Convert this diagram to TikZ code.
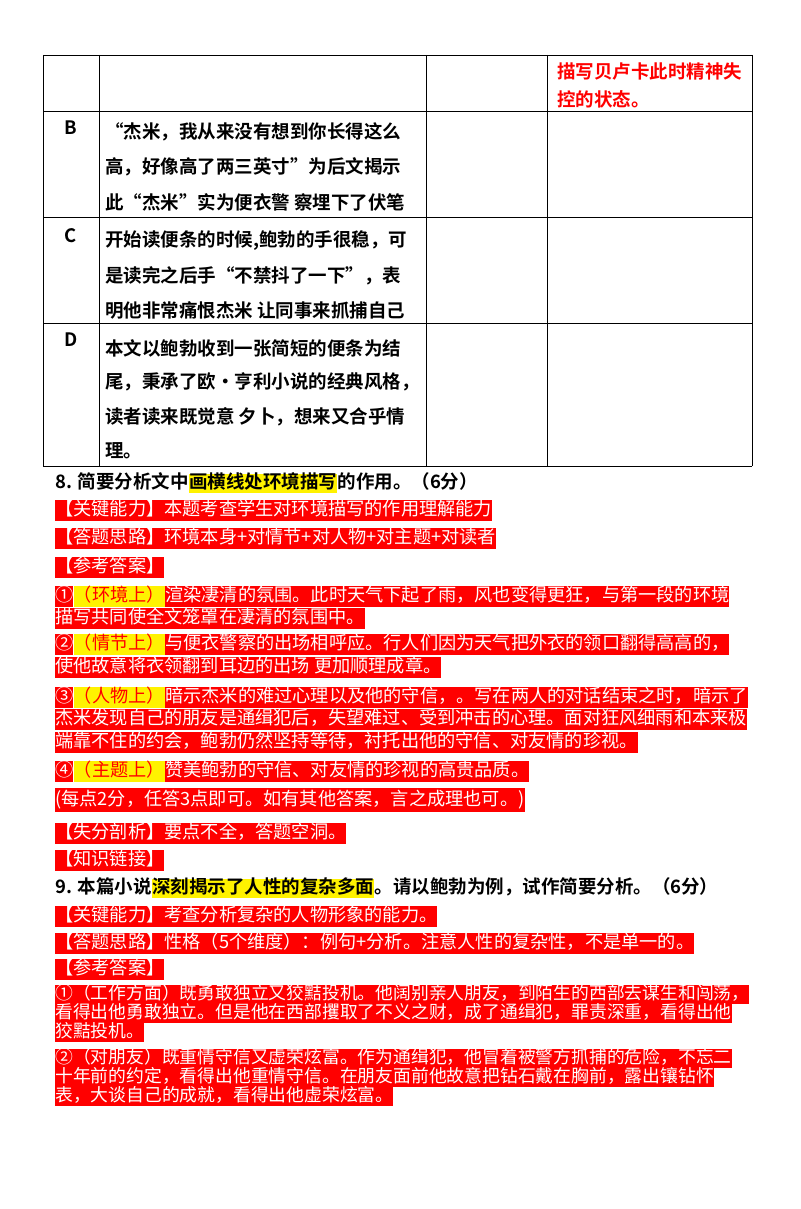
\documentclass[tikz,border=0pt]{standalone}
\usepackage{fontspec}
\newfontfamily\cjk{Noto Sans CJK SC}
\newfontfamily\cjkb{Noto Sans CJK SC Bold}
\usetikzlibrary{positioning}
\begin{document}
\begin{tikzpicture}[x=1pt,y=-1pt,
 tb/.style={anchor=west,inner sep=0pt,font=\cjkb\fontsize{18.5}{20}\selectfont},
 tr/.style={tb,text=red},
 ttl/.style={anchor=west,inner sep=0pt,text height=15pt,text depth=4pt,font=\cjkb\fontsize{18.5}{20}\selectfont},
 hl/.style={ttl,fill=yellow},
 rb/.style={anchor=west,fill=red,text=white,inner xsep=0pt,inner ysep=0pt,text height=16pt,text depth=5pt,font=\cjk\fontsize{18.2}{20}\selectfont},
 rbs/.style={rb,text height=14.5pt,text depth=4.5pt,font=\cjk\fontsize{17.8}{19}\selectfont},
 yb/.style={rb,fill=yellow,text=red}]
\useasboundingbox (0,0) rectangle (800,1209);
% table
\foreach \yy in {55,111,217,323,466} \draw[line width=0.8pt] (43,\yy) -- (752,\yy);
\foreach \xx in {43,99,426,547,752} \draw[line width=0.8pt] (\xx,55) -- (\xx,466);
\node[tr] (a1) at (557,72) {描写贝卢卡此时精神失};
\node[tr] (a2) at (557,99) {控的状态。};
\node[tb] (lb) at (64,128) {B};
\node[tb] (b1) at (105,132) {“杰米，我从来没有想到你长得这么};
\node[tb] (b2) at (105,167) {高，好像高了两三英寸”为后文揭示};
\node[tb] (b3) at (105,202) {此“杰米”实为便衣警 察埋下了伏笔};
\node[tb] (lc) at (64,236) {C};
\node[tb] (c1) at (105,241) {开始读便条的时候,鲍勃的手很稳，可};
\node[tb] (c2) at (105,276) {是读完之后手“不禁抖了一下”，表};
\node[tb] (c3) at (105,310) {明他非常痛恨杰米 让同事来抓捕自己};
\node[tb] (ld) at (64,340) {D};
\node[tb] (d1) at (105,348) {本文以鲍勃收到一张简短的便条为结};
\node[tb] (d2) at (105,382) {尾，秉承了欧•亨利小说的经典风格，};
\node[tb] (d3) at (105,417) {读者读来既觉意 夕卜，想来又合乎情};
\node[tb] (d4) at (105,451) {理。};
% Q8
\node[ttl] (q8a) at (55,483) {8. 简要分析文中};
\node[hl,right=0pt of q8a] (q8b) {画横线处环境描写};
\node[ttl,right=0pt of q8b] (q8c) {的作用。（6分）};
\node[rb] (k1) at (55,510) {【关键能力】本题考查学生对环境描写的作用理解能力};
\node[rb] (k2) at (55,538) {【答题思路】环境本身+对情节+对人物+对主题+对读者};
\node[rb] (k3) at (55,567) {【参考答案】};
\node[rb] (e1a) at (55,596) {①};
\node[yb,right=0pt of e1a] (e1b) {（环境上）};
\node[rb,right=0pt of e1b] (e1c) {渲染凄清的氛围。此时天气下起了雨，风也变得更狂，与第一段的环境};
\node[rb] (e1d) at (55,618) {描写共同使全文笼罩在凄清的氛围中。};
\node[rb] (e2a) at (55,644) {②};
\node[yb,right=0pt of e2a] (e2b) {（情节上）};
\node[rb,right=0pt of e2b] (e2c) {与便衣警察的出场相呼应。行人们因为天气把外衣的领口翻得高高的，};
\node[rb] (e2d) at (55,667) {使他故意将衣领翻到耳边的出场 更加顺理成章。};
\node[rb] (e3a) at (55,697) {③};
\node[yb,right=0pt of e3a] (e3b) {（人物上）};
\node[rb,right=0pt of e3b] (e3c) {暗示杰米的难过心理以及他的守信，。写在两人的对话结束之时，暗示了};
\node[rb] (e3d) at (55,719) {杰米发现自己的朋友是通缉犯后，失望难过、受到冲击的心理。面对狂风细雨和本来极};
\node[rb] (e3e) at (55,742) {端靠不住的约会，鲍勃仍然坚持等待，衬托出他的守信、对友情的珍视。};
\node[rb] (e4a) at (55,771) {④};
\node[yb,right=0pt of e4a] (e4b) {（主题上）};
\node[rb,right=0pt of e4b] (e4c) {赞美鲍勃的守信、对友情的珍视的高贵品质。};
\node[rb,text depth=7pt,text height=17pt] (e5) at (55,800) {(每点2分，任答3点即可。如有其他答案，言之成理也可。)};
\node[rb] (s1) at (55,833) {【失分剖析】要点不全，答题空洞。};
\node[rb] (s2) at (55,860) {【知识链接】};
% Q9
\node[ttl] (q9a) at (55,888) {9. 本篇小说};
\node[hl,right=0pt of q9a] (q9b) {深刻揭示了人性的复杂多面};
\node[ttl,right=0pt of q9b] (q9c) {。请以鲍勃为例，试作简要分析。（6分）};
\node[rb] (n1) at (55,916) {【关键能力】考查分析复杂的人物形象的能力。};
\node[rb] (n2) at (55,943) {【答题思路】性格（5个维度）：例句+分析。注意人性的复杂性，不是单一的。};
\node[rb] (n3) at (55,969) {【参考答案】};
\node[rbs] (m1) at (55,994) {①（工作方面）既勇敢独立又狡黠投机。他阔别亲人朋友，到陌生的西部去谋生和闯荡，};
\node[rbs] (m2) at (55,1013) {看得出他勇敢独立。但是他在西部攫取了不义之财，成了通缉犯，罪责深重，看得出他};
\node[rbs] (m3) at (55,1032) {狡黠投机。};
\node[rbs] (p1) at (55,1058) {②（对朋友）既重情守信又虚荣炫富。作为通缉犯，他冒着被警方抓捕的危险，不忘二};
\node[rbs] (p2) at (55,1077) {十年前的约定，看得出他重情守信。在朋友面前他故意把钻石戴在胸前，露出镶钻怀};
\node[rbs] (p3) at (55,1096) {表，大谈自己的成就，看得出他虚荣炫富。};
\end{tikzpicture}
\end{document}
